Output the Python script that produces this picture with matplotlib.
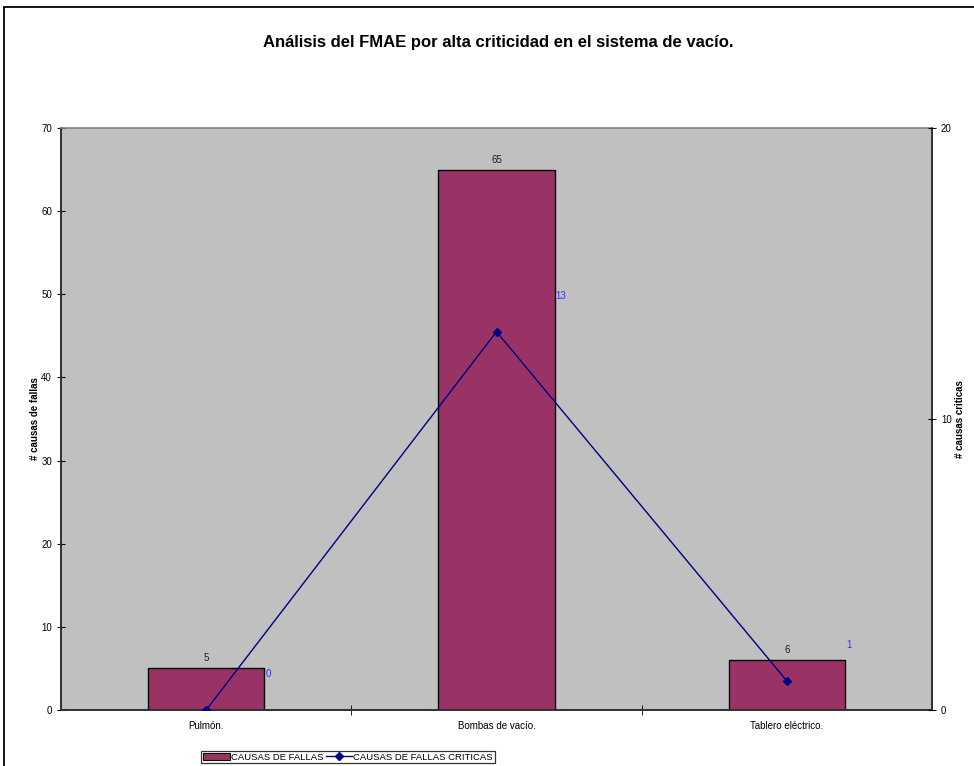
import matplotlib
matplotlib.use("Agg")
import matplotlib.pyplot as plt
from matplotlib.patches import Rectangle
from matplotlib.lines import Line2D
import numpy as np

categories = ["Pulmón.", "Bombas de vacío.", "Tablero eléctrico."]
causas_fallas = [5, 65, 6]
causas_criticas = [0, 13, 1]
left_ticks = [0, 10, 20, 30, 40, 50, 60, 70]
right_ticks = [0, 10, 20]

plt.rcParams["font.family"] = ["Liberation Sans", "DejaVu Sans"]

W, H = 974, 766
fig = plt.figure(figsize=(W / 100, H / 100), dpi=100)
fig.patch.set_facecolor("white")

# outer chart border
fig.patches.append(Rectangle((3.5 / W, -0.05), 1.2, 1 - 6.5 / H + 0.05,
                             transform=fig.transFigure, fill=False,
                             edgecolor="black", linewidth=1.3, zorder=0))

ax = fig.add_axes([61 / W, 1 - 710 / H, (932 - 61) / W, (710 - 128) / H])
ax.set_facecolor("#C0C0C0")
x = np.arange(len(categories))
bars = ax.bar(x, causas_fallas, width=0.4, color="#993366",
              edgecolor="black", linewidth=1.0, zorder=2)
ax.set_xlim(-0.5, len(categories) - 0.5)
ax.set_ylim(0, 70)
ax.set_yticks(left_ticks)
ax.set_xticks(x)
ax.set_xticklabels(categories, fontsize=7)
ax.set_xticks(np.arange(0.5, len(categories) - 0.5, 1), minor=True)
ax.tick_params(axis="x", which="major", length=0, pad=8)
ax.tick_params(axis="x", which="minor", length=7, direction="inout", color="black")
ax.tick_params(axis="y", length=6, direction="inout", labelsize=7, color="black")
for s in ["left", "bottom", "right"]:
    ax.spines[s].set_color("#303030")
    ax.spines[s].set_linewidth(1.4)
ax.spines["top"].set_color("#808080")
ax.spines["top"].set_linewidth(1.2)
ax.set_ylabel("# causas de fallas", fontsize=7, fontweight="bold")
ax.yaxis.set_label_coords((40 - 61) / (932 - 61), 0.5)

for b, v in zip(bars, causas_fallas):
    ax.annotate(str(v), (b.get_x() + b.get_width() / 2, v), xytext=(0, 10),
                textcoords="offset pixels", ha="center", va="center",
                fontsize=7, color="#202020")

ax2 = ax.twinx()
ax2.set_ylim(0, 20)
ax2.set_yticks(right_ticks)
ax2.tick_params(axis="y", length=6, direction="inout", labelsize=7, color="black")
for s in ax2.spines.values():
    s.set_visible(False)
ax2.plot(x, causas_criticas, color="#000080", linewidth=1.0, marker="D",
         markersize=4.5, markerfacecolor="#000080", markeredgecolor="#000080",
         zorder=3)
for xi, v in zip(x, causas_criticas):
    ax2.annotate(str(v), (xi, v), xytext=(59, 36), textcoords="offset pixels",
                 ha="left", va="center", fontsize=7, color="#3333FF")
ax2.set_ylabel("# causas criticas", fontsize=7, fontweight="bold", rotation=90)
ax2.yaxis.set_label_coords((955 - 61) / (932 - 61), 0.5)

fig.text(498 / W, 1 - 42 / H,
         "Análisis del FMAE por alta criticidad en el sistema de vacío.",
         ha="center", va="center", fontsize=12, fontweight="bold")

handles = [Rectangle((0, 0), 1, 1, facecolor="#993366", edgecolor="black", linewidth=0.8),
           Line2D([], [], color="#000080", marker="D", markersize=4,
                  markerfacecolor="#000080", linewidth=1.0)]
leg = fig.legend(handles, ["CAUSAS DE FALLAS", "CAUSAS DE FALLAS CRITICAS"],
                 loc="center", bbox_to_anchor=(348 / W, 1 - 757 / H), ncol=2,
                 fontsize=6.8, frameon=True, fancybox=False, edgecolor="black",
                 borderpad=0.2, handlelength=2.8, handletextpad=0.1,
                 columnspacing=0.3, borderaxespad=0)
leg.get_frame().set_linewidth(0.9)

fig.savefig("out.png", dpi=100, facecolor="white")
